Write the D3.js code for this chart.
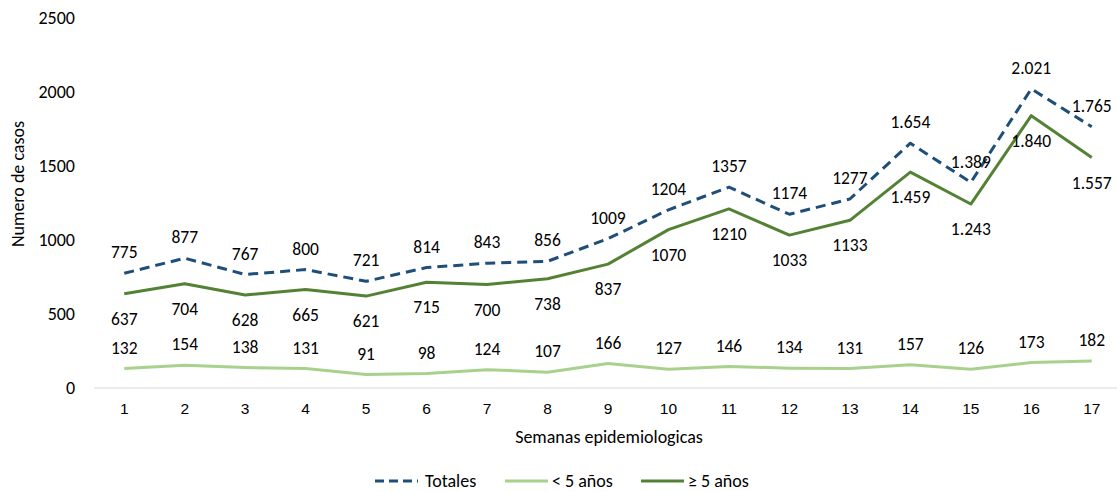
<!DOCTYPE html>
<html>
<head>
<meta charset="utf-8">
<script src="https://cdn.jsdelivr.net/npm/d3@7"></script>
<style>
  body { margin: 0; background: #fff; }
  svg { font-family: Carlito, Lato, "Liberation Sans", sans-serif; }
</style>
</head>
<body>
<div id="chart"></div>
<script>
const w = 1117;
const h = 492;

const weeks = d3.range(1, 18);
const totales = [775, 877, 767, 800, 721, 814, 843, 856, 1009, 1204, 1357, 1174, 1277, 1654, 1389, 2021, 1765];
const menores5 = [132, 154, 138, 131, 91, 98, 124, 107, 166, 127, 146, 134, 131, 157, 126, 173, 182];
const mayores5 = [637, 704, 628, 665, 621, 715, 700, 738, 837, 1070, 1210, 1033, 1133, 1459, 1243, 1840, 1557];
const yTicks = [0, 500, 1000, 1500, 2000, 2500];
// from week 14 on the source prints thousands with a dot
const dotFromWeek = 14;

const series = [
  { name: "Totales", values: totales, color: "#1f4e79", dash: "10,6", labelDy: -21 },
  { name: "< 5 años", values: menores5, color: "#a9d18e", dash: null, labelDy: -21 },
  { name: "≥ 5 años", values: mayores5, color: "#548235", dash: null, labelDy: 25 }
];

const dotFormat = d3.formatLocale({ decimal: ",", thousands: ".", grouping: [3], currency: ["", ""] }).format(",d");
const label = (v, wk) => wk >= dotFromWeek ? dotFormat(v) : String(v);

const x = d3.scaleBand().domain(weeks).range([94, 1122]);
const y = d3.scaleLinear().domain([0, 2500]).range([388, 18]);

const svg = d3.select("#chart").append("svg").attr("width", w).attr("height", h);

// y axis labels
svg.selectAll(".ytick")
  .data(yTicks)
  .enter()
  .append("text")
  .attr("class", "ytick")
  .attr("x", 75)
  .attr("y", d => y(d))
  .attr("dy", "0.35em")
  .attr("text-anchor", "end")
  .style("font-size", "18px")
  .style("fill", "#000")
  .text(d => d);

// baseline
svg.append("line")
  .attr("x1", x.range()[0]).attr("x2", x.range()[1])
  .attr("y1", y(0)).attr("y2", y(0))
  .style("stroke", "#d9d9d9").style("stroke-width", 1);

const xAxis = d3.axisBottom(x).tickSize(0).tickPadding(15);
const gx = svg.append("g").attr("transform", "translate(0," + y(0) + ")").call(xAxis);
gx.select(".domain").remove();
gx.selectAll("text").style("font-size", "15.5px").style("font-family", "inherit").style("fill", "#000");

svg.append("text")
  .attr("x", 609).attr("y", 443)
  .attr("text-anchor", "middle")
  .style("font-size", "18px")
  .text("Semanas epidemiologicas");

svg.append("text")
  .attr("transform", "translate(24,184) rotate(-90)")
  .attr("text-anchor", "middle")
  .style("font-size", "18px")
  .text("Numero de casos");

const line = d3.line()
  .x((d, i) => x(weeks[i]) + x.bandwidth() / 2)
  .y(d => y(d));

series.forEach(s => {
  svg.append("path")
    .datum(s.values)
    .attr("d", line)
    .style("fill", "none")
    .style("stroke", s.color)
    .style("stroke-width", 3)
    .style("stroke-dasharray", s.dash)
    .style("stroke-linejoin", "round");
});

series.forEach(s => {
  svg.selectAll(null)
    .data(s.values)
    .enter()
    .append("text")
    .attr("x", (d, i) => x(weeks[i]) + x.bandwidth() / 2)
    .attr("y", d => y(d) + s.labelDy)
    .attr("dy", "0.35em")
    .attr("text-anchor", "middle")
    .style("font-size", "17.5px")
    .style("fill", "#000")
    .text((d, i) => label(d, weeks[i]));
});

// legend
const legendX = [375, 505, 641];
const legend = svg.selectAll(".legend")
  .data(series)
  .enter()
  .append("g")
  .attr("class", "legend")
  .attr("transform", (d, i) => "translate(" + legendX[i] + ",481)");

legend.append("line")
  .attr("x1", 0).attr("x2", 43)
  .style("stroke", d => d.color)
  .style("stroke-width", 3)
  .style("stroke-dasharray", d => d.dash ? "9,5" : null);

legend.append("text")
  .attr("x", d => d.dash ? 50 : 47)
  .attr("dy", "0.35em")
  .style("font-size", "18px")
  .text(d => d.name);
</script>
</body>
</html>
